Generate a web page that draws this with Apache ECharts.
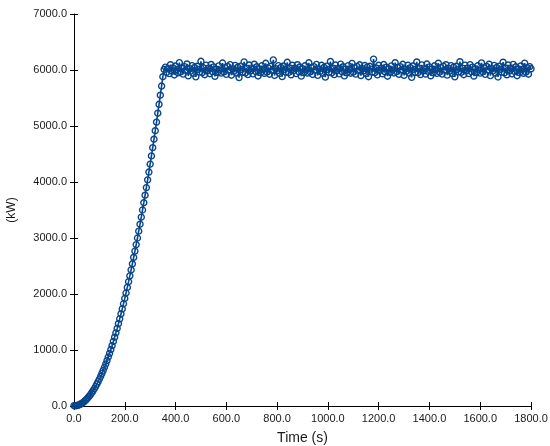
<!DOCTYPE html>
<html>
<head>
<meta charset="utf-8">
<script src="https://cdn.jsdelivr.net/npm/echarts@6/dist/echarts.min.js"></script>
<style>
  html, body { margin: 0; padding: 0; background: #fff; }
  #chart { width: 550px; height: 446px; }
</style>
</head>
<body>
<div id="chart"></div>
<script>
// power vs time, one sample every 5 s
var timeStep = 5;
var xTicks = [0, 1800, 200];
var yTicks = [0, 7000, 1000];

// ramp-up 0..355 s
var rampPower = [
    5, 2, 8, 12, 22, 30, 45, 60, 80, 100, 122, 148, 175, 205, 237, 272,
    308, 348, 390, 435, 482, 530, 582, 636, 692, 750, 812, 875, 940, 1008,
    1078, 1152, 1228, 1306, 1386, 1470, 1556, 1644, 1734, 1826, 1920, 2018,
    2118, 2220, 2324, 2430, 2540, 2652, 2766, 2882, 3000, 3122, 3246, 3372,
    3500, 3630, 3764, 3900, 4038, 4178, 4320, 4466, 4614, 4764, 4916, 5070,
    5228, 5388, 5550, 5714, 5880, 6010
];

// plateau 360..1800 s
var plateauPower = [
    6052, 5958, 6027, 5935, 6094, 5985, 6036, 5912, 6071, 6005, 5948, 6132, 5968, 6031, 5926, 6060, 5994,
    6108, 5896, 6022, 5980, 6078, 5940, 6045, 5878, 6068, 6012, 5962, 6156, 5954, 6039, 5916, 6087, 5989,
    6028, 5934, 6099, 5972, 6055, 5888, 6016, 5955, 6073, 6003, 5944, 6125, 5966, 6042, 5922, 6063, 5998,
    6096, 5907, 6019, 5976, 6082, 5943, 6050, 5865, 6069, 6009, 5960, 6145, 5950, 6034, 5919, 6090, 5986,
    6025, 5930, 6103, 5974, 6058, 5894, 6018, 5952, 6076, 6006, 5941, 6120, 5964, 6040, 5925, 6066, 5995,
    6180, 5902, 6024, 5982, 6079, 5938, 6046, 5883, 6072, 6013, 5961, 6138, 5956, 6037, 5914, 6085, 5991,
    6030, 5935, 6094, 5970, 6054, 5890, 6021, 5953, 6075, 6001, 5946, 6129, 5967, 6043, 5920, 6061, 5997,
    6100, 5904, 6018, 5977, 6084, 5941, 6048, 5872, 6070, 6010, 5958, 6152, 5949, 6033, 5917, 6088, 5988,
    6027, 5931, 6105, 5973, 6057, 5895, 6015, 5950, 6078, 6007, 5943, 6118, 5962, 6039, 5926, 6064, 5994,
    6093, 5901, 6025, 5983, 6081, 5937, 6051, 5880, 6066, 6015, 5964, 6195, 5955, 6036, 5913, 6084, 5992,
    6031, 5932, 6097, 5968, 6052, 5889, 6022, 5956, 6073, 6000, 5947, 6130, 5970, 6045, 5923, 6060, 5999,
    6102, 5905, 6016, 5979, 6085, 5944, 6043, 5869, 6072, 6012, 5956, 6144, 5952, 6031, 5919, 6091, 5985,
    6024, 5928, 6106, 5976, 6055, 5896, 6019, 5949, 6075, 6004, 5940, 6121, 5961, 6042, 5928, 6067, 5996,
    6094, 5908, 6027, 5980, 6078, 5935, 6052, 5878, 6067, 6009, 5965, 6148, 5958, 6034, 5916, 6087, 5990,
    6033, 5937, 6096, 5971, 6051, 5892, 6024, 5955, 6076, 6003, 5945, 6127, 5968, 6040, 5922, 6063, 6000,
    6103, 5899, 6021, 5982, 6082, 5943, 6045, 5875, 6069, 6013, 5962, 6139, 5950, 6037, 5914, 6090, 5987,
    6028, 5929, 6100, 5974, 6058, 5898, 6018, 5952, 6072, 6006, 5941, 6123, 5964, 6043, 5925, 6061, 6022
];

var power = rampPower.concat(plateauPower);
var points = power.map(function (v, i) { return [i * timeStep, v]; });

var fmt = function (v) { return v.toFixed(1); };
var txt = { color: '#1a1a1a', fontFamily: 'Liberation Sans, Arial, sans-serif' };
var blue = '#08468c';

var chart = echarts.init(document.getElementById('chart'));
var option = {
    animation: false,
    grid: {
        left: 74,
        right: 19,
        top: 14,
        bottom: 40,
        outerBoundsMode: 'none'
    },
    xAxis: [{
        type: 'value',
        min: xTicks[0], max: xTicks[1], interval: xTicks[2],
        name: 'Time (s)',
        nameLocation: 'middle',
        nameGap: 25,
        nameTextStyle: Object.assign({ fontSize: 14 }, txt),
        splitLine: { show: false },
        axisLine: { lineStyle: { color: '#000', width: 1 } },
        axisTick: { length: 4, lineStyle: { color: '#000' } },
        axisLabel: Object.assign({ fontSize: 11, margin: 7, formatter: fmt }, txt)
    }, {
        // inner half of the crossing ticks
        type: 'value', position: 'bottom',
        min: xTicks[0], max: xTicks[1], interval: xTicks[2],
        splitLine: { show: false },
        axisLine: { show: false },
        axisTick: { inside: true, length: 4, lineStyle: { color: '#000' } },
        axisLabel: { show: false }
    }],
    yAxis: [{
        type: 'value',
        min: yTicks[0], max: yTicks[1], interval: yTicks[2],
        name: '(kW)',
        nameLocation: 'middle',
        nameGap: 56,
        nameTextStyle: Object.assign({ fontSize: 12 }, txt),
        splitLine: { show: false },
        axisLine: { show: true, lineStyle: { color: '#000', width: 1 } },
        axisTick: { show: true, length: 4, lineStyle: { color: '#000' } },
        axisLabel: Object.assign({ fontSize: 11, margin: 7, formatter: fmt }, txt)
    }, {
        type: 'value', position: 'left',
        min: yTicks[0], max: yTicks[1], interval: yTicks[2],
        splitLine: { show: false },
        axisLine: { show: false },
        axisTick: { show: true, inside: true, length: 4, lineStyle: { color: '#000' } },
        axisLabel: { show: false }
    }],
    series: [{
        type: 'line',
        data: points,
        symbol: 'circle',
        symbolSize: 6,
        showAllSymbol: true,
        lineStyle: { color: blue, width: 1.6 },
        itemStyle: { color: 'rgba(255,255,255,0)', borderColor: blue, borderWidth: 1.4 }
    }]
};
chart.setOption(option);
</script>
</body>
</html>
